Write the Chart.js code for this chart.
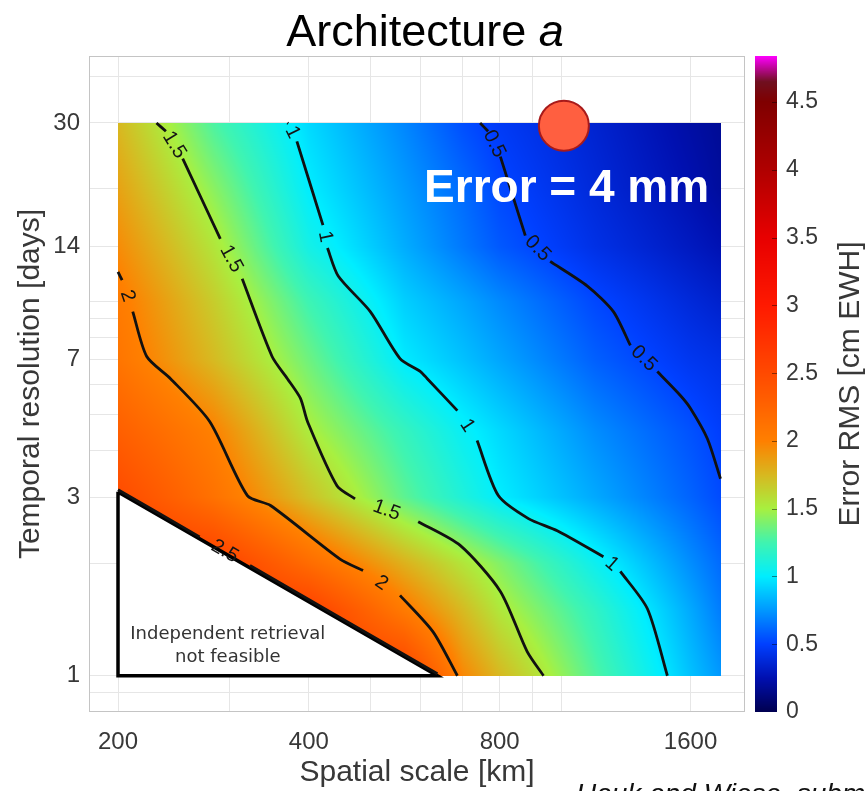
<!DOCTYPE html>
<html>
<head>
<meta charset="utf-8">
<script src="https://cdn.jsdelivr.net/npm/chart.js@4.4.1/dist/chart.umd.min.js"></script>
<style>
  html, body { margin: 0; padding: 0; background: #fff; }
  canvas { display: block; }
</style>
</head>
<body>
<canvas id="chart" width="866" height="791"></canvas>
<script>
// Error RMS field [cm EWH] on a log grid
const spatialNodes = [200, 283, 400, 566, 700, 800, 1131, 1600, 1786];
const temporalNodes = [1, 1.5, 2, 3, 4.5, 7, 10, 14, 20, 30];
const errorRms = [
    [2.75, 2.7, 2.65, 2.6, 1.97, 1.75, 1.29, 0.87, 0.75],
    [2.7, 2.65, 2.6, 2.05, 1.74, 1.54, 1.19, 0.8, 0.67],
    [2.7, 2.62, 2.18, 1.78, 1.55, 1.41, 1.05, 0.72, 0.62],
    [2.5, 2.13, 1.71, 1.32, 1.12, 1.0, 0.8, 0.6, 0.53],
    [2.3, 2.0, 1.52, 1.21, 1.03, 0.94, 0.72, 0.55, 0.49],
    [2.1, 1.74, 1.36, 0.99, 0.87, 0.79, 0.59, 0.45, 0.42],
    [2.05, 1.66, 1.24, 0.91, 0.79, 0.71, 0.52, 0.38, 0.34],
    [1.95, 1.55, 1.08, 0.81, 0.66, 0.57, 0.42, 0.3, 0.26],
    [1.85, 1.43, 1.0, 0.76, 0.62, 0.52, 0.38, 0.25, 0.2],
    [1.75, 1.28, 0.94, 0.70, 0.54, 0.47, 0.35, 0.22, 0.18]
];

// contour lines [km, days]; null = gap where the label sits
const contour05 = [[745, 30], [767, 28.5], null, [802, 24.4], [878, 15.0], null, [961, 12.8], [1100, 11.0], [1209, 9.4], [1286, 7.63], null, [1418, 6.5], [1542, 5.61], [1600, 5.18], [1701, 4.3], [1784, 3.36]];
const contour10 = [[370, 30], [371, 29.9], null, [383, 26.8], [421, 16.0], null, [428, 13.9], [445, 11.7], [500, 9.4], [557, 7.04], [600, 6.5], [615, 6.22], [686, 5.11], null, [737, 4.25], [796, 3.03], [888, 2.63], [986, 2.44], [1166, 2.08], null, [1240, 1.9], [1368, 1.51], [1471, 1]];
const contour15 = [[230, 30], [238, 28.5], null, [253, 24.1], [290, 14.7], null, [314, 11.5], [350, 7.13], [370, 6.22], [388, 5.51], [398, 4.78], [443, 3.22], [473, 2.97], null, [595, 2.58], [693, 2.23], [802, 1.68], [884, 1.16], [938, 1]];
const contour20 = [[200, 12.0], [203, 11.4], null, [211, 9.4], [222, 7.13], [242, 6.22], [279, 4.78], [320, 3.03], [348, 2.85], [448, 2.05], [487, 1.91], null, [557, 1.64], [628, 1.31], [686, 1]];
const contour25 = [[200, 3.14], [269, 2.35], null, [323, 1.97], [638, 1.012]];
const contours = [contour05, contour10, contour15, contour20, contour25];
const contourLevels = ['0.5', '1', '1.5', '2', '2.5'];

const infeasible = [[200, 3.1], [200, 1], [638, 1], [200, 3.1]];
const highlight = [[1010, 29.5]];

const xTickValues = [200, 300, 400, 500, 600, 700, 800, 900, 1000, 1600];
const xTickLabels = [200, 400, 800, 1600];
const yTickValues = [0.9, 1, 2, 3, 4, 5, 6, 7, 8, 9, 10, 14, 20, 30, 40];
const yTickLabels = [1, 3, 7, 14, 30];
const cbTicks = [0, 0.5, 1, 1.5, 2, 2.5, 3, 3.5, 4, 4.5];

// colour map (jet-like, with magenta top)
const colorStops = [
    [0.0, '#000050'], [0.25, '#0010b0'], [0.5, '#0040ff'], [0.75, '#0098ff'],
    [1.0, '#00eeff'], [1.25, '#40f4b0'], [1.5, '#a8f040'], [1.75, '#d8b820'],
    [2.0, '#ff8000'], [2.25, '#ff6400'], [2.5, '#ff4a00'], [3.0, '#ff1a00'],
    [3.5, '#e80000'], [4.0, '#b00000'], [4.5, '#800000'], [4.65, '#701020'],
    [4.84, '#ff00ff']
];

const FONT = '"Liberation Sans", Arial, Helvetica, sans-serif';
const TEXT = '#383838';
Chart.defaults.font.family = FONT;

const stops = colorStops.map(([v, hex]) => [v, parseInt(hex.slice(1, 3), 16), parseInt(hex.slice(3, 5), 16), parseInt(hex.slice(5, 7), 16)]);

function colorAt(v) {
    if (v <= stops[0][0]) return stops[0].slice(1);
    for (let k = 1; k < stops.length; k++) {
        if (v <= stops[k][0]) {
            const a = stops[k - 1], b = stops[k];
            const t = (v - a[0]) / (b[0] - a[0]);
            return [a[1] + t * (b[1] - a[1]), a[2] + t * (b[2] - a[2]), a[3] + t * (b[3] - a[3])];
        }
    }
    return stops[stops.length - 1].slice(1);
}

function locate(logs, v) {
    let k = 0;
    while (k < logs.length - 2 && v > logs[k + 1]) k++;
    const t = Math.min(1, Math.max(0, (v - logs[k]) / (logs[k + 1] - logs[k])));
    return [k, t];
}

const toPoints = arr => arr.map((p, i) => p ? { x: p[0], y: p[1] } : { x: arr[i - 1][0], y: null });

const heatmapPlugin = {
    id: 'heatmap',
    beforeDatasetsDraw(chart) {
        const { ctx, scales: { x, y } } = chart;
        const x0 = Math.round(x.getPixelForValue(spatialNodes[0]));
        const x1 = Math.round(x.getPixelForValue(spatialNodes[spatialNodes.length - 1]));
        const y0 = Math.round(y.getPixelForValue(temporalNodes[temporalNodes.length - 1]));
        const y1 = Math.round(y.getPixelForValue(temporalNodes[0]));
        const w = x1 - x0, h = y1 - y0;
        const off = document.createElement('canvas');
        off.width = w; off.height = h;
        const octx = off.getContext('2d');
        const img = octx.createImageData(w, h);
        const lx = spatialNodes.map(Math.log), ly = temporalNodes.map(Math.log);
        const cols = [];
        for (let i = 0; i < w; i++) cols.push(locate(lx, Math.log(x.getValueForPixel(x0 + i + 0.5))));
        for (let j = 0; j < h; j++) {
            const [r, ty] = locate(ly, Math.log(y.getValueForPixel(y0 + j + 0.5)));
            const lo = errorRms[r], hi = errorRms[r + 1];
            for (let i = 0; i < w; i++) {
                const [c, tx] = cols[i];
                const a = lo[c] + tx * (lo[c + 1] - lo[c]);
                const b = hi[c] + tx * (hi[c + 1] - hi[c]);
                const rgb = colorAt(a + ty * (b - a));
                const o = (j * w + i) * 4;
                img.data[o] = rgb[0]; img.data[o + 1] = rgb[1]; img.data[o + 2] = rgb[2]; img.data[o + 3] = 255;
            }
        }
        octx.putImageData(img, 0, 0);
        ctx.drawImage(off, x0, y0);

        // infeasible region
        ctx.save();
        ctx.beginPath();
        infeasible.forEach(([vx, vy], i) => {
            const px = x.getPixelForValue(vx), py = y.getPixelForValue(vy);
            i ? ctx.lineTo(px, py) : ctx.moveTo(px, py);
        });
        ctx.closePath();
        ctx.fillStyle = '#fff';
        ctx.fill();
        ctx.restore();
    }
};

const overlayPlugin = {
    id: 'overlay',
    afterDatasetsDraw(chart) {
        const { ctx, scales: { x, y } } = chart;
        ctx.save();
        ctx.font = '20px ' + FONT;
        ctx.fillStyle = '#151515';
        ctx.textAlign = 'center';
        ctx.textBaseline = 'middle';
        contours.forEach((line, k) => {
            line.forEach((p, i) => {
                if (p !== null) return;
                const a = line[i - 1], b = line[i + 1];
                const ax = x.getPixelForValue(a[0]), ay = y.getPixelForValue(a[1]);
                const bx = x.getPixelForValue(b[0]), by = y.getPixelForValue(b[1]);
                let ang = Math.atan2(by - ay, bx - ax);
                if (ang > Math.PI / 2) ang -= Math.PI;
                if (ang < -Math.PI / 2) ang += Math.PI;
                ctx.save();
                ctx.translate((ax + bx) / 2, (ay + by) / 2);
                ctx.rotate(ang);
                ctx.fillText(contourLevels[k], 0, 0);
                ctx.restore();
            });
        });

        // note inside the triangle
        ctx.font = '18px "DejaVu Sans", Verdana, sans-serif';
        ctx.fillStyle = '#333';
        ctx.fillText('Independent retrieval', x.getPixelForValue(298), y.getPixelForValue(1.287));
        ctx.fillText('not feasible', x.getPixelForValue(298), y.getPixelForValue(1.117));

        // highlight label
        ctx.font = 'bold 46px ' + FONT;
        ctx.fillStyle = '#fff';
        ctx.fillText('Error = 4 mm', x.getPixelForValue(1020), y.getPixelForValue(20));
        ctx.restore();
    },
    afterDraw(chart) {
        const { ctx, chartArea: ca, scales: { cb } } = chart;
        ctx.save();
        // axes box
        ctx.strokeStyle = '#c4c4c4';
        ctx.lineWidth = 1;
        ctx.strokeRect(ca.left + 0.5, ca.top + 0.5, ca.right - ca.left - 1, ca.bottom - ca.top - 1);

        // colour bar
        const bl = cb.left + 10, bw = 22;
        for (let py = Math.round(cb.top); py < Math.round(cb.bottom); py++) {
            const rgb = colorAt(cb.getValueForPixel(py + 0.5));
            ctx.fillStyle = `rgb(${rgb[0] | 0},${rgb[1] | 0},${rgb[2] | 0})`;
            ctx.fillRect(bl, py, bw, 1);
        }
        ctx.strokeStyle = 'rgba(0,0,0,0.45)';
        cbTicks.slice(1).forEach(v => {
            const py = Math.round(cb.getPixelForValue(v)) + 0.5;
            ctx.beginPath();
            ctx.moveTo(bl + bw - 5, py);
            ctx.lineTo(bl + bw, py);
            ctx.stroke();
        });

        // colour bar title
        ctx.fillStyle = TEXT;
        ctx.font = '30px ' + FONT;
        ctx.textAlign = 'center';
        ctx.textBaseline = 'middle';
        ctx.translate(851, (cb.top + cb.bottom) / 2);
        ctx.rotate(-Math.PI / 2);
        ctx.fillText('Error RMS [cm EWH]', 0, 0);
        ctx.setTransform(1, 0, 0, 1, 0, 0);

        // title with italic a
        ctx.fillStyle = '#000';
        ctx.textAlign = 'left';
        ctx.textBaseline = 'alphabetic';
        ctx.font = '45px ' + FONT;
        const t1 = 'Architecture ';
        const w1 = ctx.measureText(t1).width;
        ctx.font = 'italic 45px ' + FONT;
        const w2 = ctx.measureText('a').width;
        const sx = 425 - (w1 + w2) / 2;
        ctx.font = '45px ' + FONT;
        ctx.fillText(t1, sx, 46);
        ctx.font = 'italic 45px ' + FONT;
        ctx.fillText('a', sx + w1, 46);

        // citation, cut by the page edge
        ctx.font = 'italic 28px ' + FONT;
        ctx.fillStyle = '#111';
        ctx.fillText('Hauk and Wiese, submitted', 576, 803);
        ctx.restore();
    }
};

new Chart(document.getElementById('chart'), {
    type: 'scatter',
    data: {
        datasets: [
            {
                data: toPoints(highlight),
                pointRadius: 25,
                pointHoverRadius: 25,
                backgroundColor: '#ff5f40',
                borderColor: '#a81a1a',
                borderWidth: 2
            },
            ...contours.map(c => ({
                data: toPoints(c),
                showLine: true,
                spanGaps: false,
                pointRadius: 0,
                borderColor: '#111',
                borderWidth: 2.8,
                tension: 0.25
            })),
            {
                data: toPoints(infeasible),
                showLine: true,
                pointRadius: 0,
                borderColor: '#000',
                borderWidth: 3.5,
                tension: 0
            }
        ]
    },
    options: {
        responsive: false,
        animation: false,
        devicePixelRatio: 1,
        events: [],
        layout: { padding: { top: 56, left: 0, right: 0, bottom: 0 } },
        plugins: { legend: { display: false }, tooltip: { enabled: false } },
        scales: {
            x: {
                type: 'logarithmic',
                position: 'bottom',
                min: 180,
                max: 1950,
                afterBuildTicks: s => { s.ticks = xTickValues.map(v => ({ value: v })); },
                afterFit: s => { s.height = 79; },
                grid: { color: '#e6e6e6', drawTicks: false },
                border: { display: false },
                ticks: {
                    autoSkip: false, maxRotation: 0, padding: 16, color: TEXT,
                    font: { size: 24 },
                    callback: v => xTickLabels.includes(v) ? String(v) : ''
                },
                title: { display: true, text: 'Spatial scale [km]', color: TEXT, font: { size: 30 }, padding: 0 }
            },
            y: {
                type: 'logarithmic',
                position: 'left',
                min: 0.8,
                max: 45.3,
                afterBuildTicks: s => { s.ticks = yTickValues.map(v => ({ value: v })); },
                afterFit: s => { s.width = 89; },
                grid: { color: '#e6e6e6', drawTicks: false },
                border: { display: false },
                ticks: {
                    autoSkip: false, padding: 9, color: TEXT,
                    font: { size: 24 },
                    callback: v => yTickLabels.includes(v) ? String(v) : ''
                },
                title: { display: true, text: 'Temporal resolution [days]', color: TEXT, font: { size: 30 }, padding: { top: 13, bottom: 0 } }
            },
            cb: {
                type: 'linear',
                position: 'right',
                min: 0,
                max: 4.84,
                afterBuildTicks: s => { s.ticks = cbTicks.map(v => ({ value: v })); },
                afterFit: s => { s.width = 121; },
                grid: { display: false, drawTicks: false },
                border: { display: false },
                ticks: {
                    autoSkip: false, padding: 41, color: TEXT,
                    font: { size: 23 },
                    callback: v => String(v)
                }
            }
        }
    },
    plugins: [heatmapPlugin, overlayPlugin]
});
</script>
</body>
</html>
